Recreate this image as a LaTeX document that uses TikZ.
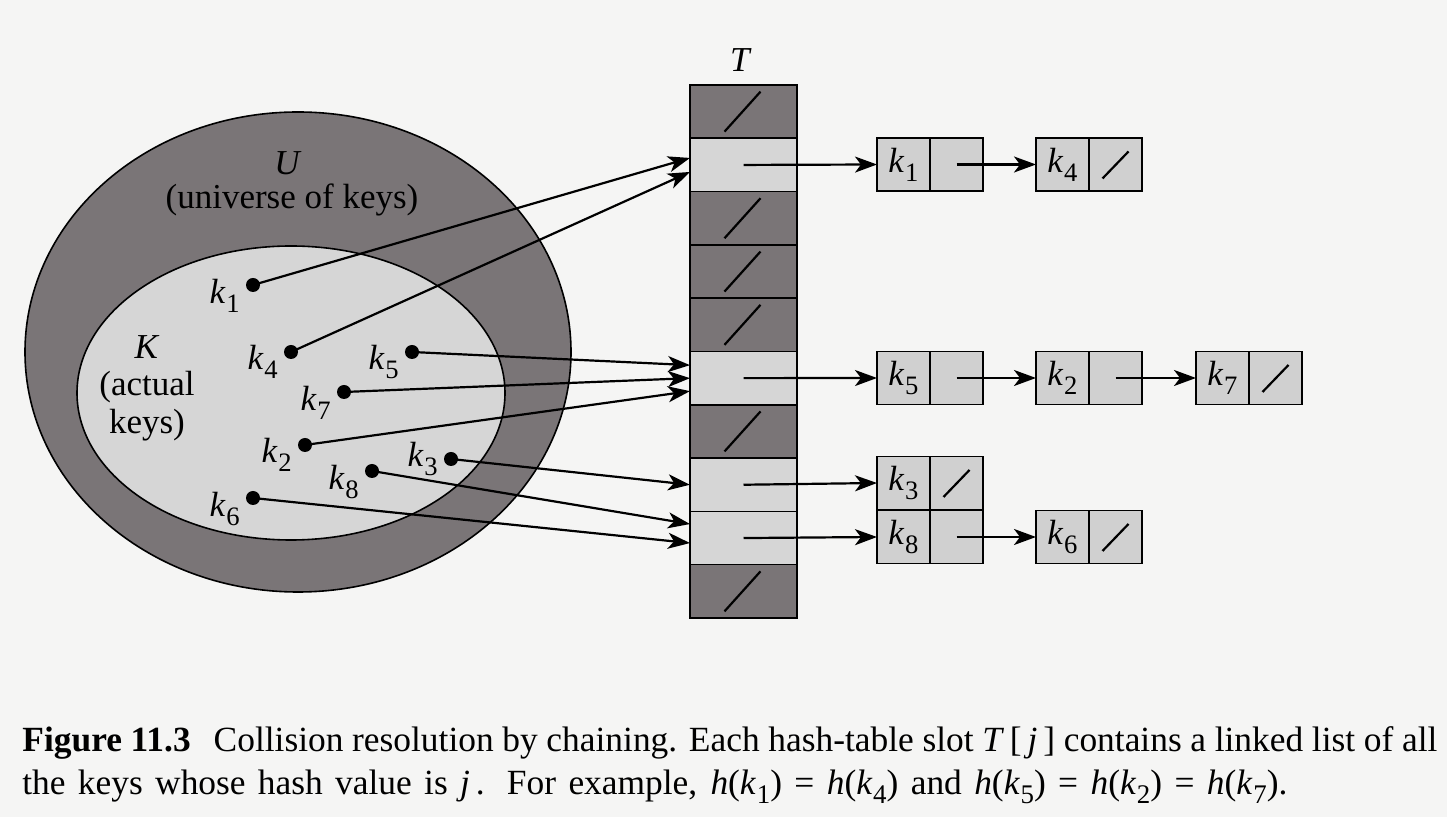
\documentclass[tikz,border=0pt]{standalone}
\usepackage{fontspec}
\setmainfont{Liberation Serif}
\usepackage{graphicx}
\usetikzlibrary{arrows.meta,calc,shapes.geometric}
\definecolor{bg}{RGB}{245,245,244}
\definecolor{darkg}{RGB}{122,117,119}
\definecolor{lightg}{RGB}{214,214,214}
\definecolor{boxg}{RGB}{208,208,208}
\newcommand\kx[1]{\textit{k}\kern0.02em\raisebox{-0.25em}{\scalebox{0.76}{#1}}}
\begin{document}
\begin{tikzpicture}[x=0.5pt,y=-0.5pt,
  slot/.style={draw=black, line width=0.8pt, minimum width=53.5pt, minimum height=26.65pt, inner sep=0pt, outer sep=0pt},
  darkslot/.style={slot, fill=darkg},
  lightslot/.style={slot, fill=lightg},
  cell/.style={draw=black, line width=0.9pt, fill=boxg, minimum width=26.5pt, minimum height=26.5pt, inner sep=0pt, outer sep=0pt, font=\fontsize{17.5}{19}\selectfont},
  dot/.style={circle, fill=black, minimum size=7pt, inner sep=0pt},
  klabel/.style={font=\fontsize{17.5}{19}\selectfont, inner sep=0pt, anchor=east},
  txt/.style={font=\fontsize{17.5}{18.75}\selectfont, inner sep=0pt, align=center},
  arr/.style={line width=1.1pt, -{Stealth[length=11pt,width=8pt,inset=3pt]}},
  nil/.style={line width=1.1pt},
  captext/.style={font=\fontsize{17.7}{20}\selectfont, inner sep=0pt, anchor=base west},
]
\useasboundingbox (0,0) rectangle (1447,817);
\fill[bg] (0,0) rectangle (1447,817);
% sets
\node[ellipse, draw=black, line width=0.8pt, fill=darkg, minimum width=273pt, minimum height=240pt, inner sep=0pt] (U) at (298,352) {};
\node[ellipse, draw=black, line width=0.8pt, fill=lightg, minimum width=214pt, minimum height=147pt, inner sep=0pt] (K) at (291,393) {};
\node[txt] (Ut) at (288,163) {\textit{U}};
\node[txt] (Uu) at (292,200) {(universe of keys)};
\node[txt] (Kt) at (147,388) {\textit{K}\\(actual\\keys)};
% table
\node[txt] (Tt) at (741,60) {\textit{T}};
\foreach \i/\s in {0/darkslot,1/lightslot,2/darkslot,3/darkslot,4/darkslot,5/lightslot,6/darkslot,7/lightslot,8/lightslot,9/darkslot}{
  \node[\s] (s\i) at (743.5,{85+53.3*(\i+0.5)}) {};
}
\foreach \i in {0,2,3,4,6,9}{
  \draw[nil] ($(s\i.center)+(-19,20)$) -- ($(s\i.center)+(17,-20)$);
}
% keys
\node[dot] (d1) at (253,285) {};
\node[dot] (d4) at (291,352) {};
\node[dot] (d5) at (412,352) {};
\node[dot] (d7) at (344,392) {};
\node[dot] (d2) at (305,445) {};
\node[dot] (d3) at (451,459) {};
\node[dot] (d8) at (372,471) {};
\node[dot] (d6) at (253,498) {};
\node[klabel] (l1) at ($(d1)+(-13,11)$) {\kx{1}};
\node[klabel] (l4) at ($(d4)+(-13,10)$) {\kx{4}};
\node[klabel] (l5) at ($(d5)+(-13,10)$) {\kx{5}};
\node[klabel] (l7) at ($(d7)+(-13,11)$) {\kx{7}};
\node[klabel] (l2) at ($(d2)+(-13,10)$) {\kx{2}};
\node[klabel] (l3) at ($(d3)+(-13,0)$) {\kx{3}};
\node[klabel] (l8) at ($(d8)+(-13,11)$) {\kx{8}};
\node[klabel] (l6) at ($(d6)+(-13,11)$) {\kx{6}};
% key arrows
\draw[arr] (d1.center) -- ($(s1.west)+(0,-7)$);
\draw[arr] (d4.center) -- ($(s1.west)+(0,7)$);
\draw[arr] (d5.center) -- ($(s5.west)+(0,-13)$);
\draw[arr] (d7.center) -- ($(s5.west)+(0,0)$);
\draw[arr] (d2.center) -- ($(s5.west)+(0,13)$);
\draw[arr] (d3.center) -- ($(s7.west)+(0,0)$);
\draw[arr] (d8.center) -- ($(s8.west)+(0,-14)$);
\draw[arr] (d6.center) -- ($(s8.west)+(0,5)$);
% list elements
\node[cell] (e1a) at (903.5,164.5) {\kx{1}};
\node[cell] (e1b) at (956.5,164.5) {};
\node[cell] (e4a) at (1062.5,164.5) {\kx{4}};
\node[cell] (e4b) at (1115.5,164.5) {};
\node[cell] (e5a) at (903.5,378) {\kx{5}};
\node[cell] (e5b) at (956.5,378) {};
\node[cell] (e2a) at (1062.5,378) {\kx{2}};
\node[cell] (e2b) at (1115.5,378) {};
\node[cell] (e7a) at (1222.5,378) {\kx{7}};
\node[cell] (e7b) at (1275.5,378) {};
\node[cell] (e3a) at (903.5,483) {\kx{3}};
\node[cell] (e3b) at (956.5,483) {};
\node[cell] (e8a) at (903.5,537) {\kx{8}};
\node[cell] (e8b) at (956.5,537) {};
\node[cell] (e6a) at (1062.5,537) {\kx{6}};
\node[cell] (e6b) at (1115.5,537) {};
\foreach \n in {e4b,e7b,e3b,e6b}{
  \draw[nil] ($(\n.center)+(-13,14)$) -- ($(\n.center)+(13,-13)$);
}
% chain arrows
\draw[arr] (s1.center) -- (e1a.west);
\draw[arr] (e1b.center) -- (e4a.west);
\draw[arr] (s5.center) -- (e5a.west);
\draw[arr] (e5b.center) -- (e2a.west);
\draw[arr] (e2b.center) -- (e7a.west);
\draw[arr] (s7.center) -- (e3a.west);
\draw[arr] (s8.center) -- (e8a.west);
\draw[arr] (e8b.center) -- (e6a.west);
% caption
\node[captext] (c1) at (22,752) {\makebox[707.5pt][s]{\textbf{Figure 11.3}\hspace{0.65em}Collision resolution by chaining. Each hash-table slot \textit{T}\,[\,\textit{j}\,] contains a linked list of all}};
\node[captext] (c2) at (22,795) {\makebox[632.5pt][s]{the keys whose hash value is \textit{j}\,. For example, \textit{h}(\kx{1}) = \textit{h}(\kx{4}) and \textit{h}(\kx{5}) = \textit{h}(\kx{2}) = \textit{h}(\kx{7}).}};
\end{tikzpicture}
\end{document}
